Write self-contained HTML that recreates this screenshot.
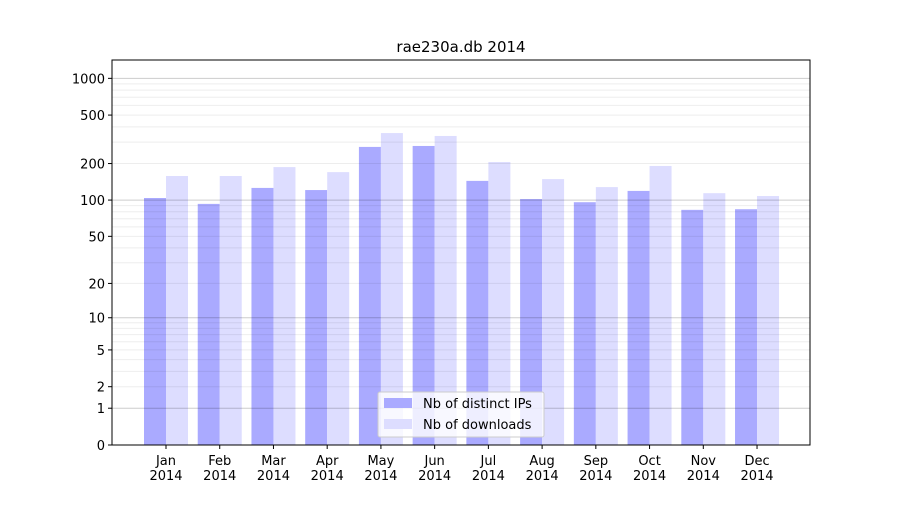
<!DOCTYPE html>
<html><head><meta charset="utf-8"><style>
body{margin:0;background:#fff;font-family:"Liberation Sans","DejaVu Sans",sans-serif}
svg text{font-family:"DejaVu Sans","Liberation Sans",sans-serif}
</style></head><body>
<svg id="c" width="900" height="500" xmlns="http://www.w3.org/2000/svg">
<rect width="900" height="500" fill="#fff"/>
<text x="461" y="52" font-size="15" text-anchor="middle">rae230a.db 2014</text>
<g id="bars"></g><g id="grid"></g><g id="axes"></g>
<g>
<rect x="378" y="392" width="166" height="45" fill="#fff" fill-opacity="0.8" stroke="#ccc" rx="2"/>
<rect x="384" y="398" width="28" height="10" fill="#aaaaff"/>
<text x="423" y="408" font-size="13">Nb of distinct IPs</text>
<rect x="384" y="419" width="28" height="10" fill="#ddddff"/>
<text x="423" y="429" font-size="13">Nb of downloads</text>
</g>
</svg>
<script>
const months=["Jan","Feb","Mar","Apr","May","Jun","Jul","Aug","Sep","Oct","Nov","Dec"];
const ips=[104,93,126,121,274,279,144,102,96,119,83,84];
const downloads=[158,158,187,170,356,337,206,149,128,191,114,108];
const yTicks=[0,1,2,5,10,20,50,100,200,500,1000];
const NS="http://www.w3.org/2000/svg";
const L=112,R=810,T=60,B=445;
const y=v=>B-122.2*Math.log10(1+v);
const xc=i=>166+i*53.73;
function mk(t,a,p){const e=document.createElementNS(NS,t);for(const k in a)e.setAttribute(k,a[k]);p.appendChild(e);return e;}
const grid=document.getElementById('grid'),bars=document.getElementById('bars'),axes=document.getElementById('axes');
for(let d of [1,10,100,1000]){for(let m=1;m<10;m++){const v=d*m;if(y(v)<T)continue;
const g=mk('line',{x1:L,x2:R,y1:y(v),y2:y(v),stroke:m==1?'#000':'#000','stroke-opacity':m==1?0.2:0.07,'stroke-width':1},grid);
}}
const g0=mk('line',{x1:L,x2:R,y1:y(0),y2:y(0),stroke:'#000','stroke-opacity':0.2},grid);

months.forEach((m,i)=>{
const b1=mk('rect',{x:xc(i)-22,y:y(ips[i]),width:22,height:B-y(ips[i]),fill:'#aaaaff'},bars);

const b2=mk('rect',{x:xc(i),y:y(downloads[i]),width:22,height:B-y(downloads[i]),fill:'#ddddff'},bars);

mk('line',{x1:xc(i),x2:xc(i),y1:B,y2:B+4,stroke:'#000'},axes);
const t=mk('text',{x:xc(i),y:B+20,'font-size':13,'text-anchor':'middle'},axes);t.textContent=m;

const t2=mk('text',{x:xc(i),y:B+35,'font-size':13,'text-anchor':'middle'},axes);t2.textContent='2014';

});
yTicks.forEach(v=>{mk('line',{x1:L-4,x2:L,y1:y(v),y2:y(v),stroke:'#000'},axes);
const t=mk('text',{x:L-7,y:y(v)+5,'font-size':13,'text-anchor':'end'},axes);t.textContent=v;
});
const fr=mk('rect',{x:L,y:T,width:R-L,height:B-T,fill:'none',stroke:'#000'},axes);

</script>
</body></html>
